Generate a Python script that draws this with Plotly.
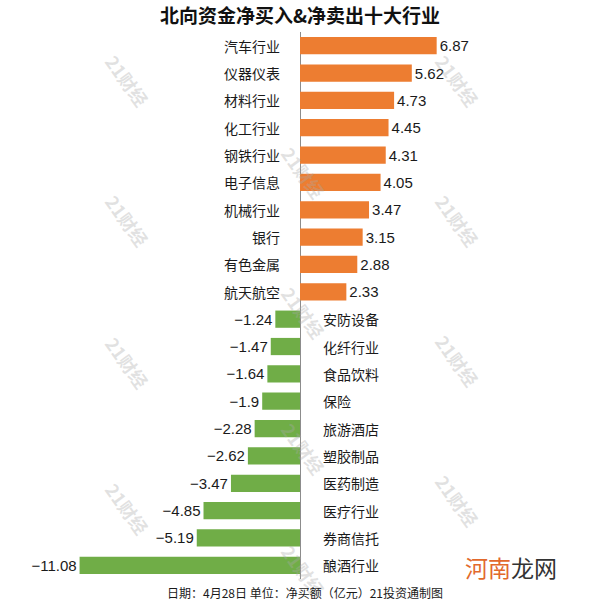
import plotly.graph_objects as go

buy_categories = ["汽车行业", "仪器仪表", "材料行业", "化工行业", "钢铁行业",
                  "电子信息", "机械行业", "银行", "有色金属", "航天航空"]
buy_values = [6.87, 5.62, 4.73, 4.45, 4.31, 4.05, 3.47, 3.15, 2.88, 2.33]
sell_categories = ["安防设备", "化纤行业", "食品饮料", "保险", "旅游酒店",
                   "塑胶制品", "医药制造", "医疗行业", "券商信托", "酿酒行业"]
sell_values = [-1.24, -1.47, -1.64, -1.9, -2.28, -2.62, -3.47, -4.85, -5.19, -11.08]

title_text = "北向资金净买入&净卖出十大行业"
footer_text = "日期：4月28日 单位：净买额（亿元）21投资通制图"

CJK = "Noto Sans CJK SC, Noto Sans, sans-serif"
NUM = "Liberation Sans, Arial, sans-serif"
ORANGE = "#ED7D31"
GREEN = "#70AD47"

categories = buy_categories + sell_categories
values = buy_values + sell_values
colors = [ORANGE] * len(buy_values) + [GREEN] * len(sell_values)
value_text = [("−" + str(abs(v))) if v < 0 else f"{v:.2f}" for v in values]

fig = go.Figure()
fig.add_trace(go.Bar(
    y=categories, x=values, orientation="h",
    marker=dict(color=colors, line=dict(width=0)),
    text=value_text, textposition="outside", cliponaxis=False,
    textfont=dict(size=15, color="#1a1a1a", family=NUM),
    hoverinfo="skip",
))

annotations = []
for c, v in zip(categories, values):
    if v >= 0:
        annotations.append(dict(x=0, y=c, xref="x", yref="y", text=c, showarrow=False,
                                xanchor="right", xshift=-18,
                                font=dict(size=14, color="#1a1a1a", family=CJK)))
    else:
        annotations.append(dict(x=0, y=c, xref="x", yref="y", text=c, showarrow=False,
                                xanchor="left", xshift=21,
                                font=dict(size=14, color="#1a1a1a", family=CJK)))

# faint watermarks (pixel positions converted to paper coords)
wm_px = [(127, 80), (127, 220), (127, 362), (127, 508),
         (457, 80), (457, 220), (457, 360), (457, 500),
         (303, 172), (303, 312), (303, 448), (303, 570)]
plot_top, plot_bot = 32, 579
for px, py in wm_px:
    annotations.append(dict(x=px / 600, y=(plot_bot - py) / (plot_bot - plot_top),
                            xref="paper", yref="paper", xanchor="center", yanchor="middle",
                            text="<b>21财经</b>", showarrow=False, textangle=54,
                            font=dict(size=18, color="rgba(170,170,170,0.35)", family=CJK)))

annotations.append(dict(x=0.5, y=1.0, xref="paper", yref="paper", xanchor="center",
                        yanchor="middle", yshift=18, text="<b>" + title_text + "</b>",
                        showarrow=False,
                        font=dict(size=19, color="#111111", family=CJK, weight=900)))
annotations.append(dict(x=305 / 600, y=0, xref="paper", yref="paper", xanchor="center",
                        yanchor="middle", yshift=-13, text=footer_text, showarrow=False,
                        font=dict(size=12, color="#1a1a1a", family=CJK)))
annotations.append(dict(x=463 / 600, y=0, xref="paper", yref="paper", xanchor="left",
                        yanchor="middle", yshift=12,
                        text="<span style='color:#E2692C'>河南</span>龙网", showarrow=False,
                        font=dict(size=23, color="#333333", family=CJK)))

fig.update_layout(
    width=600, height=600,
    margin=dict(l=0, r=0, t=plot_top, b=600 - plot_bot),
    paper_bgcolor="white", plot_bgcolor="white",
    showlegend=False, bargap=0.37,
    xaxis=dict(range=[-15.08, 15.08], showgrid=False, showticklabels=False,
               zeroline=True, zerolinecolor="#8c8c8c", zerolinewidth=1, fixedrange=True),
    yaxis=dict(autorange="reversed", showgrid=False, showticklabels=False,
               zeroline=False, fixedrange=True),
    annotations=annotations,
    font=dict(family=CJK),
)

fig.write_html("out.html")
